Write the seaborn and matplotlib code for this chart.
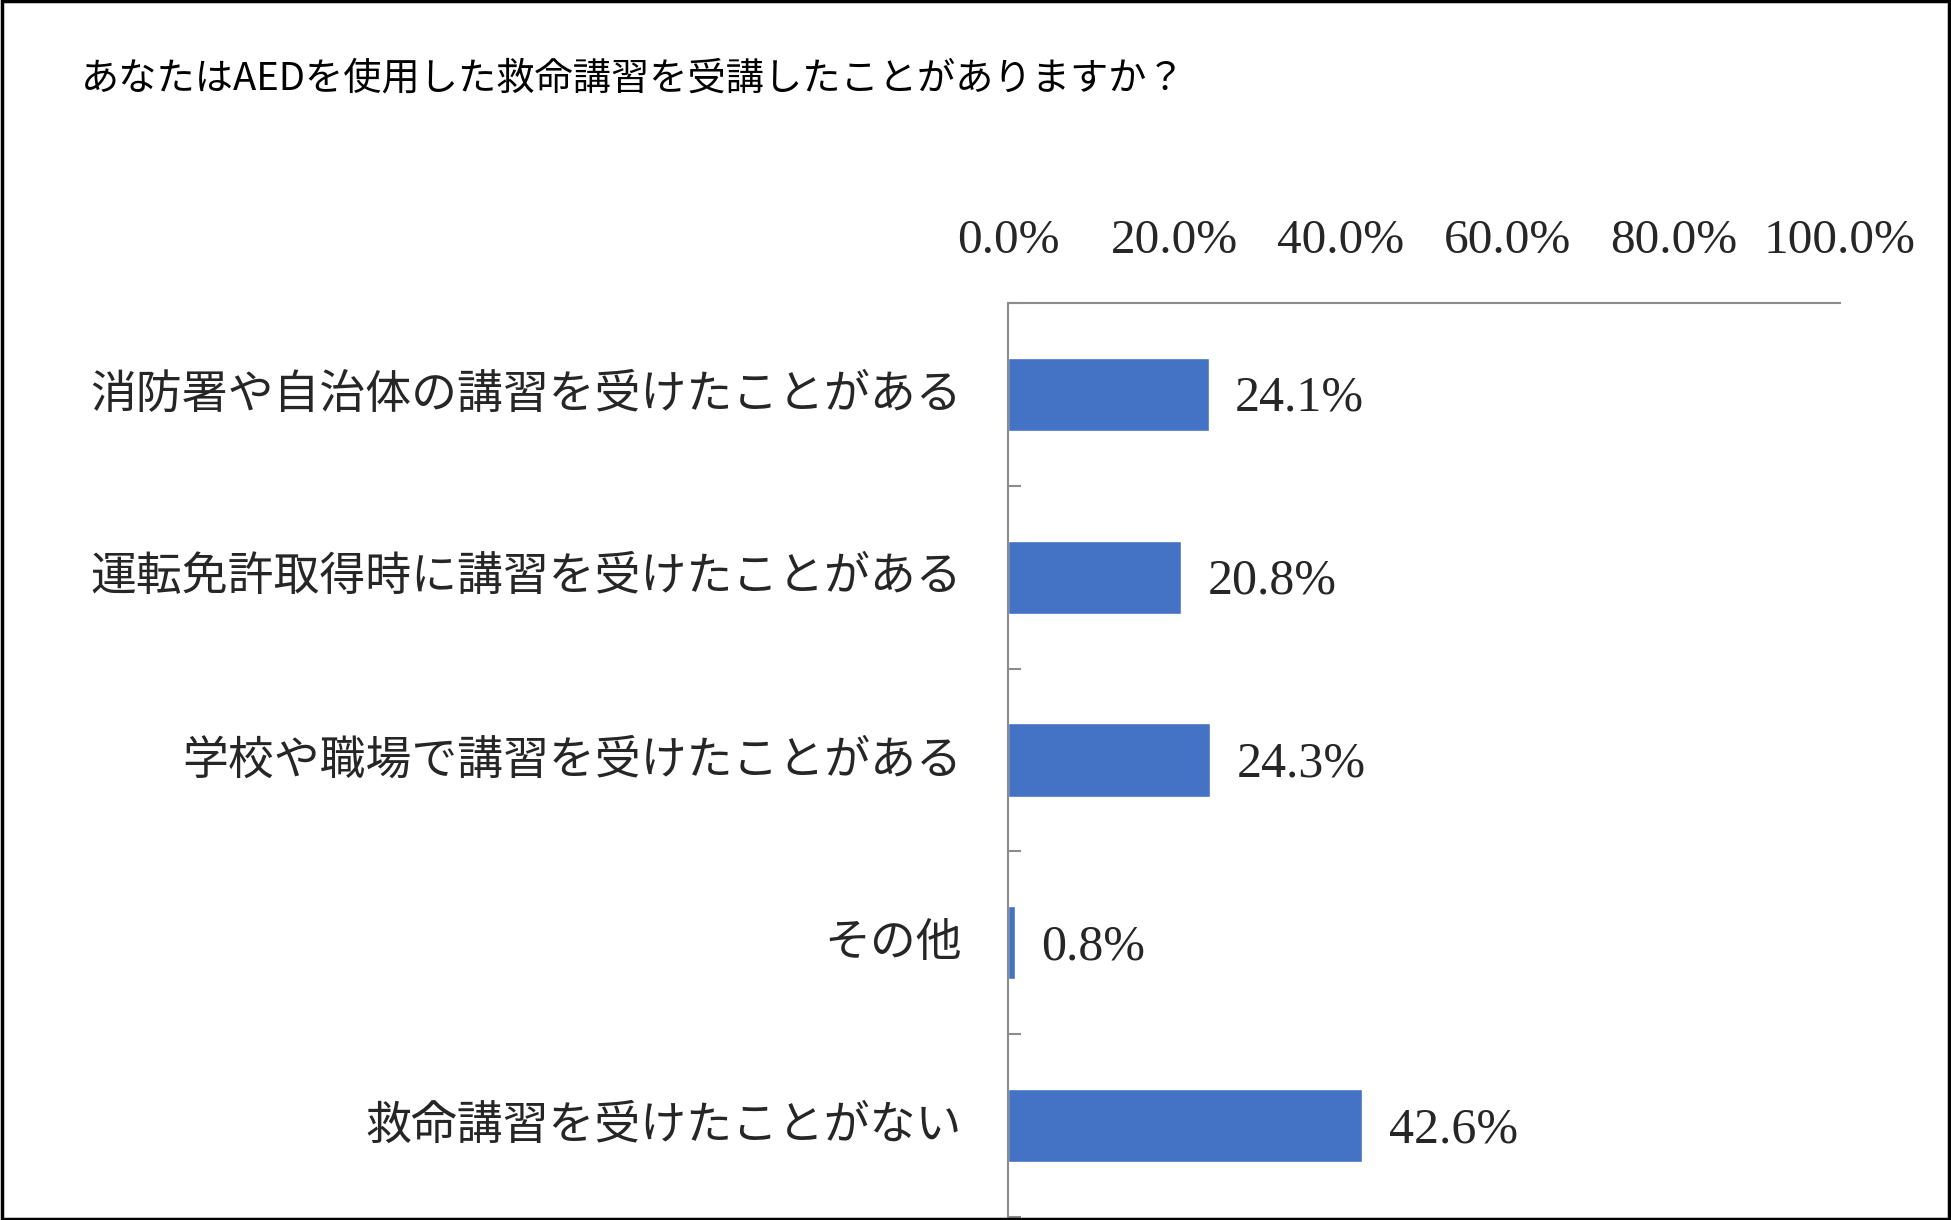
import matplotlib
matplotlib.use("Agg")
import matplotlib.pyplot as plt
import seaborn as sns
import pandas as pd
from matplotlib.patches import Rectangle
from matplotlib.ticker import FixedLocator, FuncFormatter
from matplotlib.transforms import ScaledTranslation

categories = [
    "消防署や自治体の講習を受けたことがある",
    "運転免許取得時に講習を受けたことがある",
    "学校や職場で講習を受けたことがある",
    "その他",
    "救命講習を受けたことがない",
]
values = [24.1, 20.8, 24.3, 0.8, 42.6]
x_ticks = [0, 20, 40, 60, 80, 100]
title = "あなたはAEDを使用した救命講習を受講したことがありますか？"

sns.set_theme(style="white")
plt.rcParams['font.family'] = ['Noto Sans CJK JP', 'DejaVu Sans']

df = pd.DataFrame({"category": categories, "value": values})

fig = plt.figure(figsize=(19.51, 12.20), dpi=100)
ax = fig.add_axes([1008/1951, 3/1220, (1840-1008)/1951, (1217-303)/1220])

sns.barplot(data=df, x="value", y="category", orient="h", color="#4472C4",
            saturation=1, width=0.4, ax=ax)

ax.set_xlim(0, 100)
ax.set_ylim(4.5, -0.5)
ax.xaxis.tick_top()
ax.xaxis.set_major_locator(FixedLocator(x_ticks))
ax.xaxis.set_major_formatter(FuncFormatter(lambda v, p: f"{v:.1f}%"))
ax.tick_params(axis="x", length=0, pad=29, labelsize=35.5)
for lbl in ax.get_xticklabels():
    lbl.set_family(["Liberation Serif"])

ax.tick_params(axis="y", which="major", length=0, pad=33, labelsize=33)
ax.set_yticks(range(len(categories)))
ax.set_yticklabels(categories)
shift = ScaledTranslation(0, 4/72, fig.dpi_scale_trans)
for lbl in ax.get_yticklabels():
    lbl.set_transform(lbl.get_transform() + shift)
ax.yaxis.set_minor_locator(FixedLocator([i + 0.5 for i in range(-1, len(categories))]))
ax.tick_params(axis="y", which="minor", direction="in", length=9, width=1.5,
               color="#8C8C8C", left=True)

ax.set_xlabel("")
ax.set_ylabel("")
for s in ["right", "bottom"]:
    ax.spines[s].set_visible(False)
for s in ["top", "left"]:
    ax.spines[s].set_color("#8C8C8C")
    ax.spines[s].set_linewidth(1.5)

labels = ax.bar_label(ax.containers[0], fmt="%.1f%%", padding=19, fontsize=36)
for t in labels:
    t.set_family(["Liberation Serif"])
    t.xyann = (t.xyann[0], t.xyann[1] - 3)

fig.text(81/1951, 1 - 79/1220, title, fontsize=27.5, ha="left", va="center",
         color="black")

fig.add_artist(Rectangle((0.001, 0.001), 0.998, 0.998, transform=fig.transFigure,
                         fill=False, edgecolor="black", linewidth=2.5))

fig.savefig("out.png", dpi=100)
